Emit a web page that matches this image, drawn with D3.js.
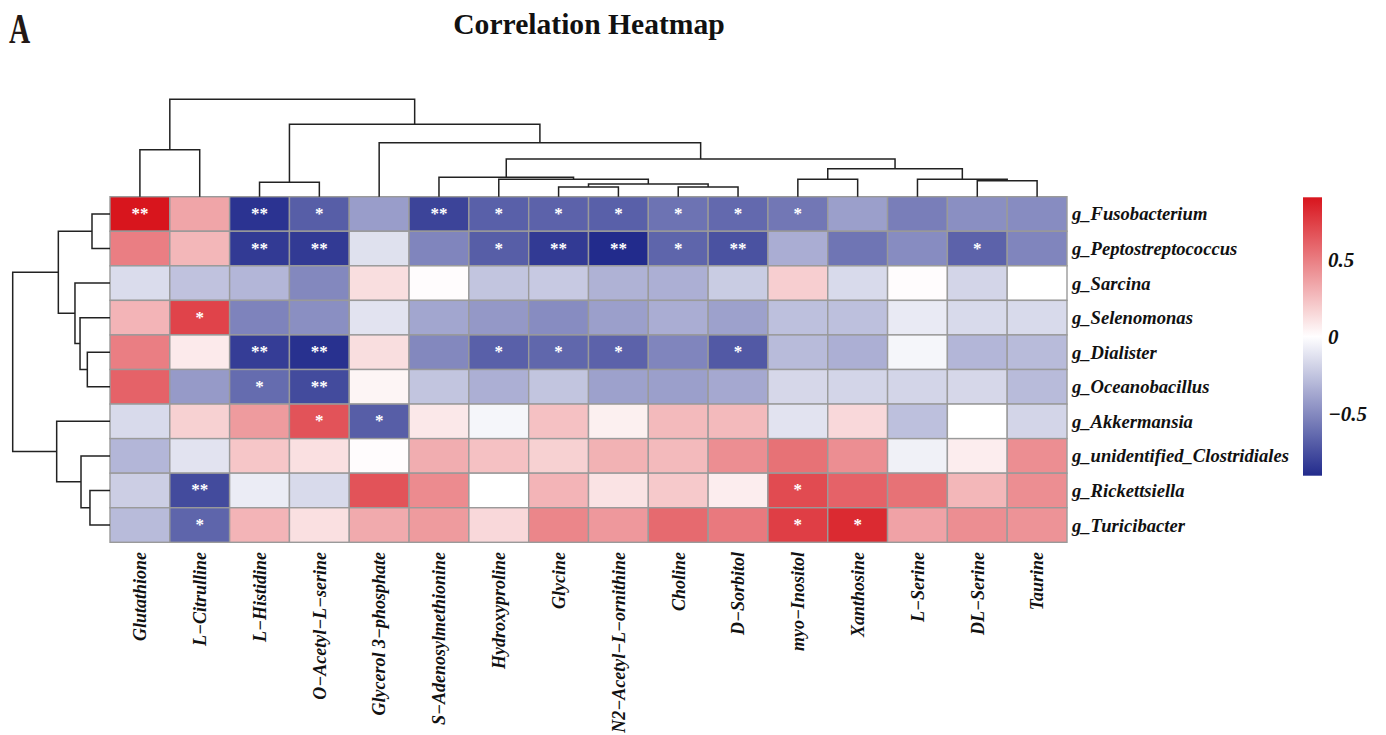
<!DOCTYPE html>
<html>
<head>
<meta charset="utf-8">
<script src="https://cdn.jsdelivr.net/npm/d3@7"></script>
<style>
  body { margin: 0; background: #fff; }
  text { font-family: "Liberation Serif", "Times New Roman", serif; }
</style>
</head>
<body>
<div id="viz"></div>
<script>
// metabolites (columns) and genera (rows), in the clustered display order
const colLabels = ["Glutathione", "L\u2212Citrulline", "L\u2212Histidine", "O\u2212Acetyl\u2212L\u2212serine",
    "Glycerol 3\u2212phosphate", "S\u2212Adenosylmethionine", "Hydroxyproline", "Glycine",
    "N2\u2212Acetyl\u2212L\u2212ornithine", "Choline", "D\u2212Sorbitol", "myo\u2212Inositol",
    "Xanthosine", "L\u2212Serine", "DL\u2212Serine", "Taurine"];

const rowLabels = ["g_Fusobacterium", "g_Peptostreptococcus", "g_Sarcina", "g_Selenomonas",
    "g_Dialister", "g_Oceanobacillus", "g_Akkermansia", "g_unidentified_Clostridiales",
    "g_Rickettsiella", "g_Turicibacter"];

// correlation coefficients, one line per genus
const corr = [
    [0.91, 0.35, -0.87, -0.69, -0.42, -0.80, -0.68, -0.67, -0.68, -0.60, -0.64, -0.58, -0.41, -0.55, -0.48, -0.49],
    [0.50, 0.28, -0.84, -0.84, -0.13, -0.52, -0.69, -0.84, -0.906, -0.66, -0.74, -0.35, -0.59, -0.49, -0.67, -0.52],
    [-0.15, -0.26, -0.31, -0.51, 0.13, 0.01, -0.25, -0.23, -0.33, -0.34, -0.22, 0.19, -0.16, 0.01, -0.18, 0.00],
    [0.29, 0.73, -0.53, -0.48, -0.12, -0.38, -0.44, -0.49, -0.41, -0.35, -0.40, -0.27, -0.27, -0.09, -0.16, -0.16],
    [0.50, 0.08, -0.83, -0.88, 0.13, -0.51, -0.68, -0.65, -0.67, -0.52, -0.71, -0.29, -0.34, -0.04, -0.31, -0.29],
    [0.61, -0.43, -0.63, -0.77, 0.04, -0.25, -0.34, -0.25, -0.40, -0.41, -0.37, -0.17, -0.18, -0.18, -0.17, -0.29],
    [-0.16, 0.18, 0.39, 0.67, -0.69, 0.09, -0.04, 0.24, 0.06, 0.27, 0.27, -0.12, 0.15, -0.27, 0.00, -0.18],
    [-0.31, -0.12, 0.22, 0.12, 0.01, 0.32, 0.24, 0.18, 0.30, 0.27, 0.44, 0.55, 0.44, -0.06, 0.07, 0.44],
    [-0.21, -0.77, -0.08, -0.16, 0.67, 0.45, 0.00, 0.29, 0.11, 0.21, 0.07, 0.70, 0.61, 0.55, 0.28, 0.44],
    [-0.29, -0.66, 0.29, 0.12, 0.33, 0.39, 0.15, 0.47, 0.40, 0.58, 0.52, 0.75, 0.83, 0.36, 0.44, 0.42]
];

// significance marks
const signif = [
    ["**", "", "**", "*", "", "**", "*", "*", "*", "*", "*", "*", "", "", "", ""],
    ["", "", "**", "**", "", "", "*", "**", "**", "*", "**", "", "", "", "*", ""],
    ["", "", "", "", "", "", "", "", "", "", "", "", "", "", "", ""],
    ["", "*", "", "", "", "", "", "", "", "", "", "", "", "", "", ""],
    ["", "", "**", "**", "", "", "*", "*", "*", "", "*", "", "", "", "", ""],
    ["", "", "*", "**", "", "", "", "", "", "", "", "", "", "", "", ""],
    ["", "", "", "*", "*", "", "", "", "", "", "", "", "", "", "", ""],
    ["", "", "", "", "", "", "", "", "", "", "", "", "", "", "", ""],
    ["", "**", "", "", "", "", "", "", "", "", "", "*", "", "", "", ""],
    ["", "*", "", "", "", "", "", "", "", "", "", "*", "*", "", "", ""]
];

// cluster merges (hclust style: negative = leaf index + 1, positive = earlier merge), with heights
const colMerges = [
    [-8, -9, 0.100], [-10, -11, 0.100], [1, 2, 0.130], [-3, -4, 0.148],
    [-15, -16, 0.164], [-7, 3, 0.179], [-12, -13, 0.179], [-14, 5, 0.179],
    [-6, 6, 0.199], [7, 8, 0.287], [9, 10, 0.387], [-1, -2, 0.483],
    [-5, 11, 0.554], [4, 13, 0.743], [12, 14, 1.0]
];
const rowMerges = [
    [-1, -2, 0.185], [-9, -10, 0.206], [-5, -6, 0.233], [-8, 2, 0.298],
    [-4, 3, 0.308], [-3, 5, 0.360], [1, 6, 0.531], [-7, 4, 0.548], [7, 8, 1.0]
];

const legendTicks = [-0.5, 0, 0.5];

const svg = d3.select("#viz")
    .append("svg")
    .attr("width", 1386)
    .attr("height", 735);

svg.append("rect").attr("width", 1386).attr("height", 735).attr("fill", "#fff");

// scales
const x = d3.scaleBand().domain(colLabels).range([110, 1067]);
const y = d3.scaleBand().domain(rowLabels).range([196.7, 542.3]);

const ext = d3.extent(corr.flat());
const color = d3.scaleLinear()
    .domain([ext[0], 0, ext[1]])
    .range(["#222b8c", "#ffffff", "#d8151d"]);

// cells
const cells = [];
corr.forEach((row, i) => row.forEach((v, j) => cells.push({ r: rowLabels[i], c: colLabels[j], v: v, s: signif[i][j] })));

svg.append("g").selectAll("rect")
    .data(cells)
    .join("rect")
    .attr("x", d => x(d.c))
    .attr("y", d => y(d.r))
    .attr("width", x.bandwidth())
    .attr("height", y.bandwidth())
    .attr("fill", d => color(d.v))
    .attr("stroke", "#9a9a9a")
    .attr("stroke-width", 1.4);

svg.append("g").selectAll("text")
    .data(cells.filter(d => d.s))
    .join("text")
    .attr("x", d => x(d.c) + x.bandwidth() / 2)
    .attr("y", d => y(d.r) + y.bandwidth() / 2 + 5)
    .attr("text-anchor", "middle")
    .attr("fill", "#fff")
    .attr("font-size", 17)
    .attr("font-weight", "bold")
    .text(d => d.s);

// dendrograms
function dendroPaths(merges, leafPos) {
    const pos = [], hgt = [], out = [];
    const get = k => k < 0 ? [leafPos(-k - 1), 0] : [pos[k - 1], hgt[k - 1]];
    merges.forEach(([a, b, h]) => {
        const [pa, ha] = get(a), [pb, hb] = get(b);
        out.push({ pa, ha, pb, hb, h });
        pos.push((pa + pb) / 2);
        hgt.push(h);
    });
    return out;
}

const colH = d3.scaleLinear().domain([0, 1]).range([196.7, 99.3]);
const rowH = d3.scaleLinear().domain([0, 1]).range([110, 12.7]);

svg.append("g").selectAll("path")
    .data(dendroPaths(colMerges, i => x(colLabels[i]) + x.bandwidth() / 2))
    .join("path")
    .attr("d", d => `M${d.pa},${colH(d.ha)}V${colH(d.h)}H${d.pb}V${colH(d.hb)}`)
    .attr("fill", "none")
    .attr("stroke", "#222")
    .attr("stroke-width", 1.5);

svg.append("g").selectAll("path")
    .data(dendroPaths(rowMerges, i => y(rowLabels[i]) + y.bandwidth() / 2))
    .join("path")
    .attr("d", d => `M${rowH(d.ha)},${d.pa}H${rowH(d.h)}V${d.pb}H${rowH(d.hb)}`)
    .attr("fill", "none")
    .attr("stroke", "#222")
    .attr("stroke-width", 1.5);

// labels
svg.append("g").selectAll("text")
    .data(rowLabels)
    .join("text")
    .attr("x", 1072)
    .attr("y", d => y(d) + y.bandwidth() / 2)
    .attr("dy", "0.35em")
    .attr("font-size", 18.6)
    .attr("font-weight", "bold")
    .attr("font-style", "italic")
    .attr("fill", "#111")
    .text(d => d);

svg.append("g").selectAll("text")
    .data(colLabels)
    .join("text")
    .attr("transform", d => `translate(${x(d) + x.bandwidth() / 2},552) rotate(-90)`)
    .attr("dy", "0.35em")
    .attr("text-anchor", "end")
    .attr("font-size", 18)
    .attr("font-weight", "bold")
    .attr("font-style", "italic")
    .attr("fill", "#111")
    .text(d => d);

// legend
const ly = d3.scaleLinear().domain(ext).range([475.7, 197.3]);
const grad = svg.append("defs").append("linearGradient")
    .attr("id", "lg").attr("x1", 0).attr("y1", 1).attr("x2", 0).attr("y2", 0);
d3.range(0, 1.0001, 0.05).forEach(t => {
    const v = ext[0] + t * (ext[1] - ext[0]);
    grad.append("stop").attr("offset", t).attr("stop-color", color(v));
});
svg.append("rect")
    .attr("x", 1303).attr("y", ly(ext[1]))
    .attr("width", 19).attr("height", ly(ext[0]) - ly(ext[1]))
    .attr("fill", "url(#lg)");

const legAxis = svg.append("g")
    .attr("transform", "translate(1322,0)")
    .call(d3.axisRight(ly).tickValues(legendTicks).tickSize(0).tickPadding(6)
        .tickFormat(d => d3.format(".1~f")(d).replace("-", "\u2212")));
legAxis.select(".domain").remove();
legAxis.selectAll("text")
    .attr("font-family", "Liberation Serif, serif")
    .attr("font-size", 21)
    .attr("font-weight", "bold")
    .attr("font-style", "italic")
    .attr("fill", "#111");

// titles
svg.append("text")
    .attr("x", 589).attr("y", 34)
    .attr("text-anchor", "middle")
    .attr("font-size", 29.6)
    .attr("font-weight", "bold")
    .attr("fill", "#111")
    .text("Correlation Heatmap");

svg.append("text")
    .attr("transform", "translate(9,43) scale(0.7,1)")
    .attr("font-size", 42)
    .attr("font-weight", "bold")
    .attr("fill", "#231815")
    .text("A");
</script>
</body>
</html>
